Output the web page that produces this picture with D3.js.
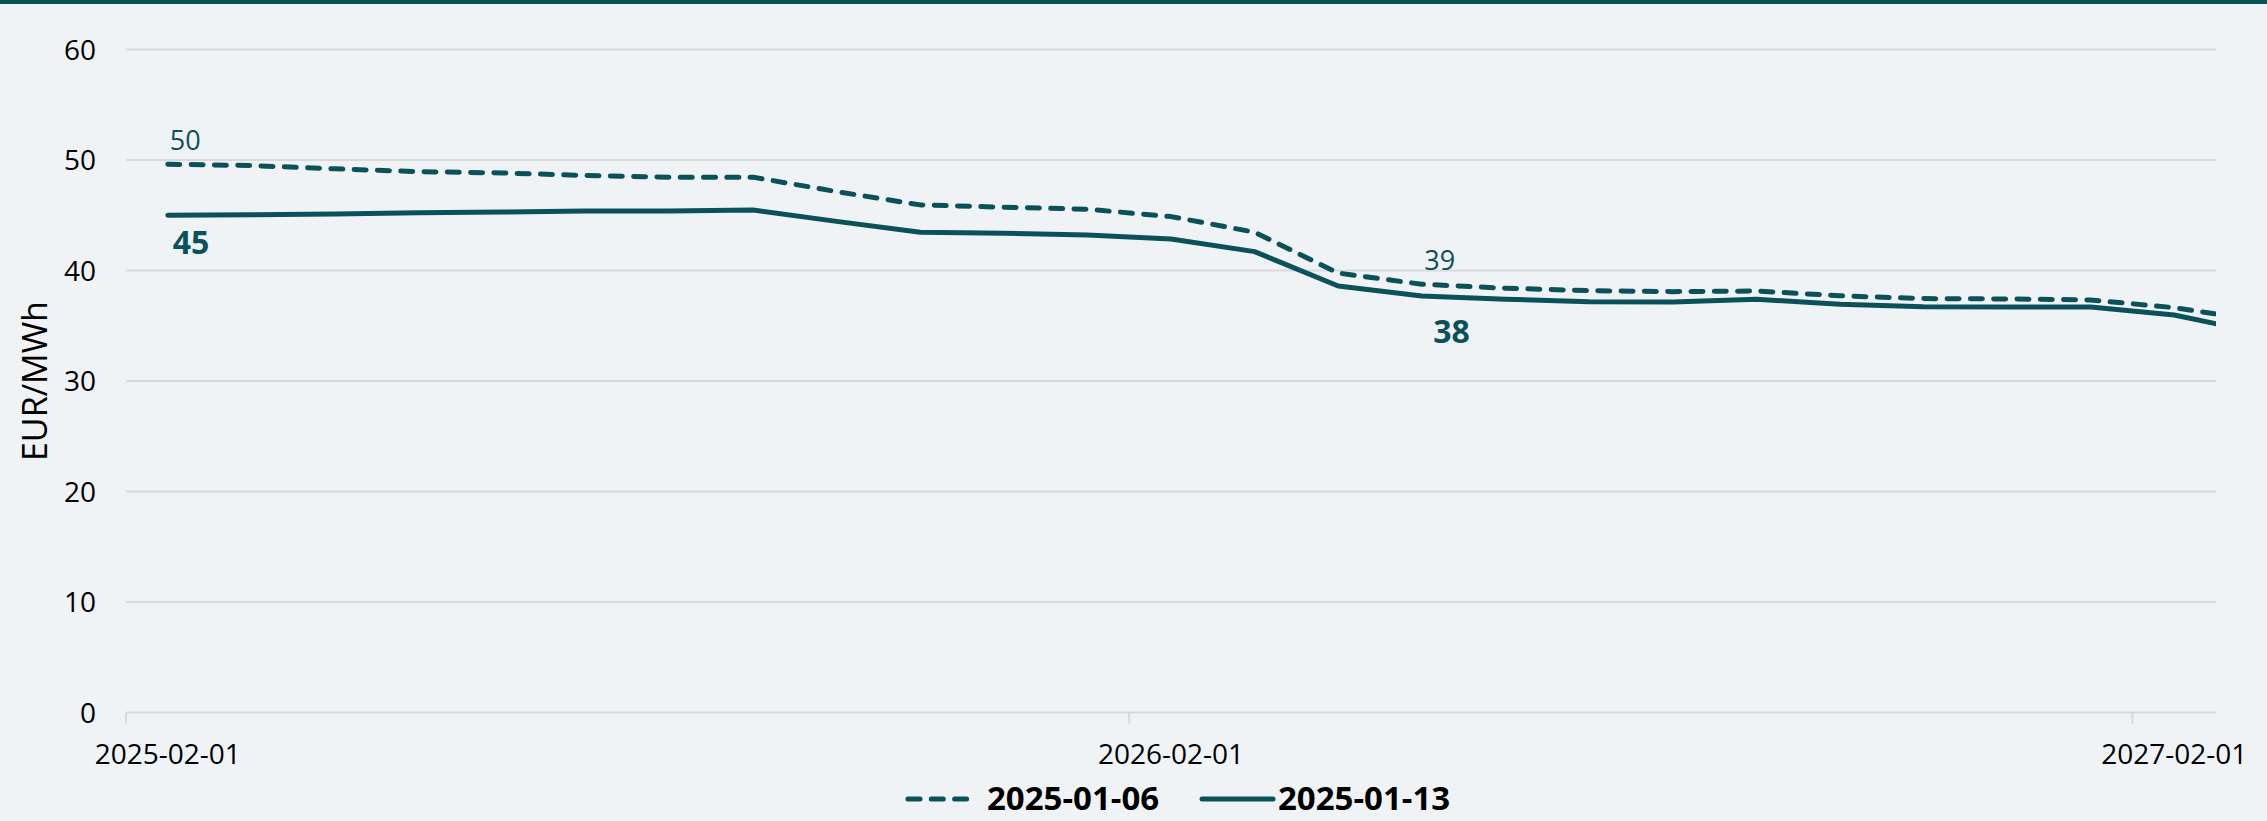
<!DOCTYPE html>
<html>
<head>
<meta charset="utf-8">
<script src="https://cdn.jsdelivr.net/npm/d3@7"></script>
<style>
  body { margin: 0; background: #eff3f6; }
  text { font-family: "Open Sans", sans-serif; }
</style>
</head>
<body>
<div id="chart"></div>
<script>
// monthly delivery dates (last one runs past the right edge of the plot)
let months = ["2025-02-01","2025-03-01","2025-04-01","2025-05-01","2025-06-01","2025-07-01",
  "2025-08-01","2025-09-01","2025-10-01","2025-11-01","2025-12-01","2026-01-01",
  "2026-02-01","2026-03-01","2026-04-01","2026-05-01","2026-06-01","2026-07-01",
  "2026-08-01","2026-09-01","2026-10-01","2026-11-01","2026-12-01","2027-01-01",
  "2027-02-01","2027-03-01"];

let series0106 = [49.62, 49.5, 49.2, 48.95, 48.83, 48.6, 48.45, 48.45, 47.14, 45.94, 45.73, 45.55,
  44.88, 43.47, 39.77, 38.76, 38.4, 38.18, 38.09, 38.15, 37.72, 37.46, 37.43, 37.34, 36.64, 35.5];
let series0113 = [45.0, 45.05, 45.12, 45.22, 45.3, 45.38, 45.38, 45.48, 44.45, 43.47, 43.37, 43.22,
  42.86, 41.71, 38.6, 37.7, 37.4, 37.18, 37.16, 37.4, 36.95, 36.73, 36.7, 36.7, 35.98, 34.4];

let seriesNames = ["2025-01-06", "2025-01-13"];
let yTicks = [0, 10, 20, 30, 40, 50, 60];
let xTickLabels = ["2025-02-01", "2026-02-01", "2027-02-01"];
let labelPoints = [0, 15]; // months that carry a value label

let width = 2267;
let height = 821;
let plotLeft = 126, plotRight = 2216, plotTop = 49.5, plotBottom = 712.6;
let teal = "#0b5159";

let svg = d3.select("#chart")
  .append("svg")
  .attr("width", width)
  .attr("height", height);

svg.append("rect")
  .attr("width", width).attr("height", height)
  .attr("fill", "#eff3f6");
svg.append("rect")
  .attr("width", width).attr("height", 4)
  .attr("fill", "#0b5159");

// month index scale, each month gets one slot, ticks on slot edges
let x = d3.scaleLinear()
  .domain([-0.5, 24.5])
  .range([plotLeft, plotRight]);

let y = d3.scaleLinear()
  .domain([0, 60])
  .range([plotBottom, plotTop]);

// gridlines
svg.append("g")
  .selectAll("line")
  .data(yTicks)
  .enter()
  .append("line")
  .attr("x1", plotLeft).attr("x2", plotRight)
  .attr("y1", d => y(d)).attr("y2", d => y(d))
  .style("stroke", "#d9d9d9")
  .style("stroke-width", "2px");

// y tick labels
svg.append("g")
  .selectAll("text")
  .data(yTicks)
  .enter()
  .append("text")
  .attr("x", plotLeft - 30)
  .attr("y", d => y(d) + 10)
  .attr("text-anchor", "end")
  .style("font-size", "28px")
  .style("fill", "#000")
  .text(d => d);

svg.append("text")
  .attr("transform", "translate(47," + ((plotTop + plotBottom) / 2) + ") rotate(-90)")
  .attr("text-anchor", "middle")
  .style("font-size", "34px")
  .style("fill", "#000")
  .text("EUR/MWh");

// x ticks and labels (one every 12 months)
let xIdx = xTickLabels.map(l => months.indexOf(l));

svg.append("g")
  .selectAll("line")
  .data(xIdx)
  .enter()
  .append("line")
  .attr("x1", d => x(d - 0.5)).attr("x2", d => x(d - 0.5))
  .attr("y1", plotBottom).attr("y2", plotBottom + 11)
  .style("stroke", "#d9d9d9")
  .style("stroke-width", "2px");

svg.append("g")
  .selectAll("text")
  .data(xIdx)
  .enter()
  .append("text")
  .attr("x", d => x(d))
  .attr("y", 764)
  .attr("text-anchor", "middle")
  .style("font-size", "28px")
  .style("fill", "#000")
  .text(d => months[d]);

// lines
svg.append("clipPath").attr("id", "plot")
  .append("rect")
  .attr("x", plotLeft).attr("y", 0)
  .attr("width", plotRight - plotLeft).attr("height", plotBottom);

let line = d3.line()
  .x((d, i) => x(i))
  .y(d => y(d));

svg.append("path")
  .datum(series0106)
  .attr("clip-path", "url(#plot)")
  .attr("d", line)
  .attr("fill", "none")
  .style("stroke", teal)
  .style("stroke-width", "5px")
  .style("stroke-dasharray", "12,11.3")
  .style("stroke-linecap", "round")
  .style("stroke-linejoin", "round");

svg.append("path")
  .datum(series0113)
  .attr("clip-path", "url(#plot)")
  .attr("d", line)
  .attr("fill", "none")
  .style("stroke", teal)
  .style("stroke-width", "5px")
  .style("stroke-linecap", "round")
  .style("stroke-linejoin", "round");

// value labels
let dashOffsets = [{dx: 2, dy: -14}, {dx: 2.5, dy: -14}];
let solidOffsets = [{dx: 5, dy: 39}, {dx: 11.5, dy: 47}];

svg.append("g")
  .selectAll("text")
  .data(labelPoints)
  .enter()
  .append("text")
  .attr("x", (d, i) => x(d) + dashOffsets[i].dx)
  .attr("y", (d, i) => y(series0106[d]) + dashOffsets[i].dy)
  .style("font-size", "27px")
  .style("fill", teal)
  .text(d => Math.round(series0106[d]));

svg.append("g")
  .selectAll("text")
  .data(labelPoints)
  .enter()
  .append("text")
  .attr("x", (d, i) => x(d) + solidOffsets[i].dx)
  .attr("y", (d, i) => y(series0113[d]) + solidOffsets[i].dy)
  .style("font-size", "32px")
  .style("font-weight", "bold")
  .style("fill", teal)
  .text(d => Math.round(series0113[d]));

// legend
let legend = svg.append("g");
let legendX = [908, 1202];

legend.selectAll("line")
  .data(seriesNames)
  .enter()
  .append("line")
  .attr("x1", (d, i) => legendX[i])
  .attr("x2", (d, i) => legendX[i] + (i == 0 ? 67 : 71))
  .attr("y1", 799).attr("y2", 799)
  .style("stroke", teal)
  .style("stroke-width", "5px")
  .style("stroke-linecap", "round")
  .style("stroke-dasharray", (d, i) => i == 0 ? "12,11.3" : null);

legend.selectAll("text")
  .data(seriesNames)
  .enter()
  .append("text")
  .attr("x", (d, i) => legendX[i] + (i == 0 ? 79 : 76))
  .attr("y", 810)
  .style("font-size", "33px")
  .style("font-weight", "bold")
  .style("fill", "#000")
  .text(d => d);
</script>
</body>
</html>
